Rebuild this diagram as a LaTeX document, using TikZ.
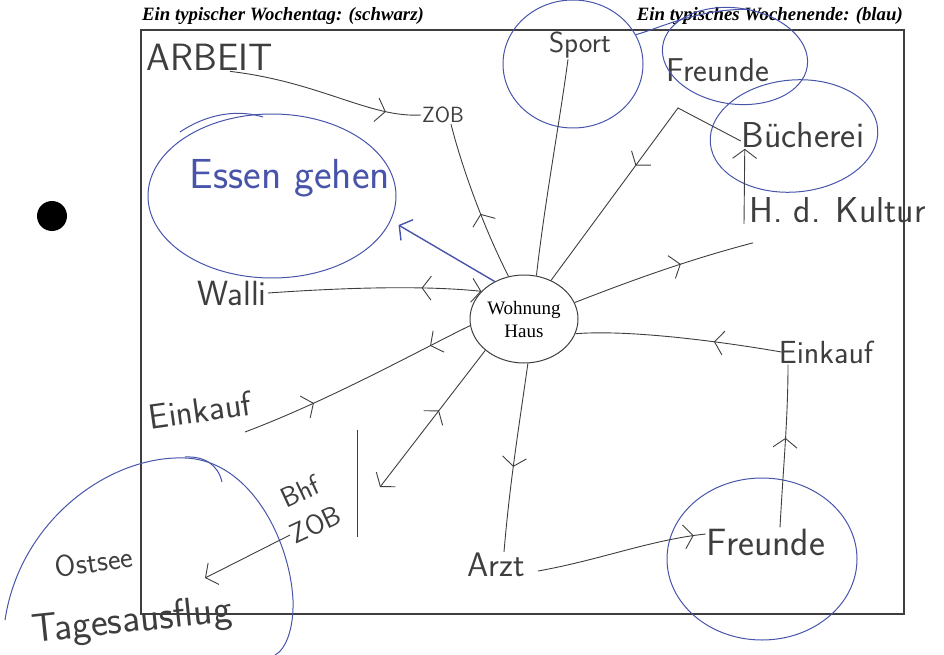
\documentclass[tikz,border=0pt]{standalone}
\usepackage{fontspec}
\setmainfont{Liberation Serif}
\usetikzlibrary{shapes.geometric,arrows.meta,decorations.markings}

\definecolor{pen}{RGB}{62,62,62}
\definecolor{weekend}{RGB}{72,84,170}

\tikzset{
  hand/.style={font=\sffamily\fontsize{#1}{#1}\selectfont, text=pen, inner sep=1pt},
  wire/.style={draw=pen, line width=0.9pt},
  ring/.style={draw=weekend, line width=1pt, ellipse, inner sep=0pt},
  tip/.style={-{Straight Barb[length=9pt,width=24pt]}},
  fwd/.style={postaction={decorate, decoration={markings,
      mark=at position #1 with {\arrow{Straight Barb[length=9pt,width=24pt]}}}}},
  bwd/.style={postaction={decorate, decoration={markings,
      mark=at position #1 with {\arrowreversed{Straight Barb[length=9pt,width=24pt]}}}}},
}

\begin{document}
\begin{tikzpicture}[x=1pt,y=-1pt]
        \useasboundingbox (0,0) rectangle (944,655);

        % Headings and frame
        \node[anchor=base west, inner sep=0pt, font=\bfseries\itshape\fontsize{18.8}{19}\selectfont] (tag) at (142,21) {Ein typischer Wochentag: (schwarz)};
        \node[anchor=base east, inner sep=0pt, font=\bfseries\itshape\fontsize{18.8}{19}\selectfont] (ende) at (903,21) {Ein typisches Wochenende: (blau)};
        \draw[pen, line width=1.2pt] (141,30) rectangle (904,614);

        % punched hole
        \fill[black] (52,216) circle (15pt);

        % Home in the middle
        \node[ellipse, draw=pen, line width=1pt, minimum width=108pt, minimum height=88pt, inner sep=0pt,
              align=center, font=\fontsize{19}{23}\selectfont] (haus) at (524,319) {Wohnung\\Haus};

        % Places (hand written)
        \node[hand=38] (arbeit) at (210,57) {ARBEIT};
        \node[hand=22] (zob) at (443,115) {ZOB};
        \node[hand=29] (sport) at (580,45) {Sport};
        \node[hand=33] (freundeT) at (718,70) {Freunde};
        \node[hand=36] (buecherei) at (803,135) {Bücherei};
        \node[hand=36, anchor=west] (kultur) at (748,210) {H. d. Kultur};
        \node[hand=42, text=weekend] (essen) at (290,178) {Essen gehen};
        \node[hand=35] (walli) at (232,293) {Walli};
        \node[hand=35, rotate=8] (einkaufL) at (200,410) {Einkauf};
        \node[hand=32] (einkaufR) at (826,352) {Einkauf};
        \node[hand=28, rotate=25, align=center, font=\sffamily\fontsize{28}{36}\selectfont] (bhf) at (308,508) {Bhf\\ZOB};
        \node[hand=34] (arzt) at (496,565) {Arzt};
        \node[hand=38] (freundeB) at (766,542) {Freunde};
        \node[hand=30, rotate=8] (ostsee) at (94,562) {Ostsee};
        \node[hand=40, rotate=6] (tages) at (132,622) {Tagesausflug};

        % Weekend loops
        \node[ring, minimum width=248pt, minimum height=164pt] (essenring) at (272,196) {};
        \node[ring, minimum width=140pt, minimum height=128pt] (sportring) at (573,64) {};
        \node[ring, minimum width=146pt, minimum height=96pt, rotate=-8] (freundering) at (735,56) {};
        \node[ring, minimum width=168pt, minimum height=112pt, rotate=5] (buechring) at (794,136) {};
        \node[ring, minimum width=190pt, minimum height=162pt] (freundeBring) at (762,559) {};
        \draw[weekend, line width=1pt] (sportring.25) .. controls (660,28) and (700,8) .. (freundering.80);
        \draw[weekend, line width=1pt] (180,132) .. controls (210,112) and (240,110) .. (263,117);
        \draw[weekend, line width=1pt] (5,620) .. controls (20,520) and (110,455) .. (185,458)
            .. controls (250,460) and (290,540) .. (293,600) .. controls (294,630) and (285,650) .. (275,655);
        \draw[weekend, line width=1pt] (185,457) .. controls (205,456) and (218,465) .. (222,482);

        % Weekday routes
        \draw[wire, fwd=0.82] ([xshift=20pt]arbeit.south) .. controls (320,82) and (370,118) .. (zob.west);
        \draw[wire, fwd=0.42] (haus.110) .. controls (480,220) and (460,160) .. ([xshift=8pt]zob.south);
        \draw[wire] (haus.74) .. controls (545,200) and (560,120) .. ([xshift=-12pt]sport.south);
        \coordinate (knick) at (678,108);
        \draw[wire, fwd=0.5] ([yshift=-6pt]buecherei.west) -- (knick) -- (haus.55);
        \draw[wire, tip] ([xshift=-4pt]kultur.south west) -- ([xshift=4pt]buecherei.south west);
        \draw[wire, fwd=0.6] (haus.18) .. controls (620,285) and (680,262) .. ([xshift=5pt,yshift=-19pt]kultur.south west);
        \draw[wire, fwd=0.33] ([xshift=4pt]einkaufR.west) .. controls (700,338) and (620,330) .. (haus.-16);
        \draw[wire, fwd=0.55] ([xshift=14pt]freundeB.north) .. controls (783,470) and (788,420) .. ([xshift=-38pt]einkaufR.south);
        \draw[wire, fwd=0.55] (haus.-85) .. controls (520,420) and (510,480) .. ([xshift=8pt]arzt.north);
        \draw[wire, fwd=0.93] ([xshift=12pt,yshift=-6pt]arzt.east) .. controls (600,560) and (650,540) .. ([yshift=8pt]freundeB.west);
        \draw[wire, tip, bwd=0.44] (haus.-141) -- ([xshift=72pt,yshift=21pt]bhf.center);
        \draw[wire] ([xshift=49pt,yshift=78pt]bhf.center) -- ([xshift=49pt,yshift=-29pt]bhf.center);
        \draw[wire, fwd=0.3, bwd=0.82] ([xshift=45pt,yshift=-22pt]einkaufL.center) .. controls (330,400) and (420,350) .. (haus.187);
        \draw[wire, tip, bwd=0.72] (walli.east) .. controls (340,288) and (420,285) .. (haus.147);
        \coordinate (ausflug) at (205,578);
        \draw[wire, tip] ([xshift=-18pt,yshift=-27pt]bhf.center) -- (ausflug);

        % Weekend trip out of the home
        \draw[weekend, line width=1.4pt, tip] (haus.128) -- ([xshift=10pt]essenring.-14);
    \end{tikzpicture}
\end{document}
